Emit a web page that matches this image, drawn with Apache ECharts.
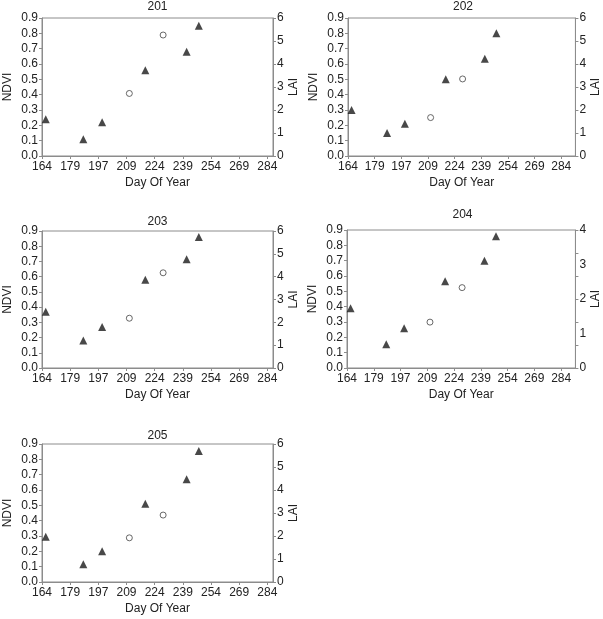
<!DOCTYPE html>
<html>
<head>
<meta charset="utf-8">
<script src="https://cdn.jsdelivr.net/npm/echarts@6/dist/echarts.min.js"></script>
<style>
html, body { margin: 0; padding: 0; background: #fff; }
#main { width: 603px; height: 619px; }
</style>
</head>
<body>
<div id="main"></div>
<script>
var plots = ['201', '202', '203', '204', '205'];
var dayTicks = ['164', '179', '197', '209', '224', '239', '254', '269', '284'];
var ndviDays = [166, 186, 196, 219, 241, 247.5];
var laiDays = [210.5, 228.5];

var ndvi201 = [0.24, 0.11, 0.22, 0.56, 0.68, 0.85];
var ndvi202 = [0.30, 0.15, 0.21, 0.50, 0.635, 0.80];
var ndvi203 = [0.37, 0.18, 0.27, 0.58, 0.715, 0.86];
var ndvi204 = [0.39, 0.155, 0.26, 0.565, 0.70, 0.86];
var ndvi205 = [0.295, 0.115, 0.20, 0.51, 0.67, 0.855];

var lai201 = [2.72, 5.26];
var lai202 = [1.67, 3.35];
var lai203 = [2.18, 4.17];
var lai204 = [1.33, 2.33];
var lai205 = [1.92, 2.91];

var laiMax = [6, 6, 6, 4, 6];

var ndviAll = [ndvi201, ndvi202, ndvi203, ndvi204, ndvi205];
var laiAll = [lai201, lai202, lai203, lai204, lai205];

// panel boxes: left, top, width, height
var boxes = [[42, 18, 231, 138], [348, 18, 230, 138], [42, 231, 231, 137], [347, 230, 231, 138], [42, 444, 231, 138]];
var xMax = [287, 292, 287, 292, 287];
var titleTop = [1, 1, 216, 209, 430];

var axisCol = '#8c8c8c';
var txtCol = '#222';
var font = 'Liberation Sans, Arial, sans-serif';

var chart = echarts.init(document.getElementById('main'));

var grids = [], xAxes = [], yAxes = [], series = [], titles = [];

plots.forEach(function (p, i) {
    var b = boxes[i];
    grids.push({
        left: b[0], top: b[1], width: b[2], height: b[3],
        show: true, borderColor: axisCol, borderWidth: 1, backgroundColor: 'transparent'
    });
    titles.push({
        text: p, left: b[0] + b[2] / 2, top: titleTop[i], textAlign: 'center', padding: 0,
        textStyle: { fontFamily: font, fontSize: 12, fontWeight: 'normal', color: txtCol }
    });
    xAxes.push({
        gridIndex: i, type: 'value', min: 164, max: xMax[i], interval: 15,
        name: 'Day Of Year', nameLocation: 'middle', nameGap: 21,
        nameTextStyle: { fontFamily: font, fontSize: 12, color: txtCol },
        axisLine: { lineStyle: { color: axisCol } },
        axisTick: { show: true, length: 3, lineStyle: { color: axisCol } },
        splitLine: { show: false },
        axisLabel: {
            fontFamily: font, fontSize: 12, color: txtCol, margin: 5,
            showMaxLabel: false,
            formatter: function (v) {
                var k = (v - 164) / 15;
                return (Math.abs(k - Math.round(k)) < 1e-6 && k >= 0 && k < dayTicks.length) ? dayTicks[Math.round(k)] : '';
            }
        }
    });
    var leftIdx = yAxes.length;
    yAxes.push({
        gridIndex: i, type: 'value', position: 'left', min: 0, max: 0.9, interval: 0.1,
        name: 'NDVI', nameLocation: 'middle', nameGap: 28, nameRotate: 90,
        nameTextStyle: { fontFamily: font, fontSize: 12, color: txtCol },
        axisLine: { show: true, lineStyle: { color: axisCol } },
        axisTick: { show: true, length: 3, lineStyle: { color: axisCol } },
        splitLine: { show: false },
        axisLabel: {
            fontFamily: font, fontSize: 12, color: txtCol, margin: 4,
            formatter: function (v) { return v.toFixed(1); }
        }
    });
    var rightIdx = yAxes.length;
    yAxes.push({
        gridIndex: i, type: 'value', position: 'right', min: 0, max: laiMax[i], interval: 1,
        name: 'LAI', nameLocation: 'middle', nameGap: 13, nameRotate: 90,
        nameTextStyle: { fontFamily: font, fontSize: 12, color: txtCol },
        axisLine: { show: true, lineStyle: { color: axisCol } },
        axisTick: { show: laiMax[i] === 6, length: 3, lineStyle: { color: axisCol } },
        splitLine: { show: false },
        axisLabel: { fontFamily: font, fontSize: 12, color: txtCol, margin: 4 }
    });
    if (laiMax[i] !== 6) {
        // tick marks only, six even steps as in the source figure
        yAxes.push({
            gridIndex: i, type: 'value', position: 'right', min: 0, max: 6, interval: 1,
            axisLine: { show: false },
            axisTick: { show: true, length: 3, lineStyle: { color: axisCol } },
            splitLine: { show: false },
            axisLabel: { show: false }
        });
    }
    series.push({
        type: 'scatter', xAxisIndex: i, yAxisIndex: leftIdx,
        symbol: 'triangle', symbolSize: 8,
        itemStyle: { color: '#1a1a1a' },
        data: ndviDays.map(function (d, j) { return [d, ndviAll[i][j]]; })
    });
    series.push({
        type: 'scatter', xAxisIndex: i, yAxisIndex: rightIdx,
        symbol: 'circle', symbolSize: 6,
        itemStyle: { color: '#fff', borderColor: '#444', borderWidth: 1 },
        data: laiDays.map(function (d, j) { return [d, laiAll[i][j]]; })
    });
});

var option = {
    animation: false,
    backgroundColor: '#fff',
    title: titles,
    grid: grids,
    xAxis: xAxes,
    yAxis: yAxes,
    series: series
};

chart.setOption(option);
</script>
</body>
</html>
